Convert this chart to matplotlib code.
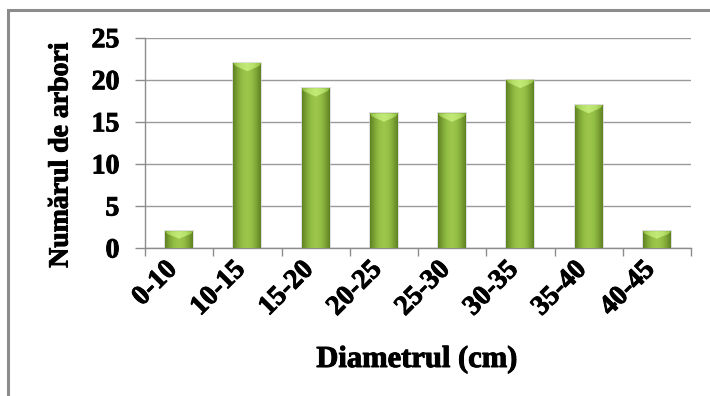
import numpy as np
import matplotlib.pyplot as plt
import matplotlib.patheffects as pe
import matplotlib.transforms as mtransforms
from matplotlib.patches import Polygon, Rectangle
from matplotlib.colors import LinearSegmentedColormap

# Distribuția arborilor pe clase de diametru
clase = ['0-10', '10-15', '15-20', '20-25', '25-30', '30-35', '35-40', '40-45']
numar_arbori = [2, 22, 19, 16, 16, 20, 17, 2]
y_ticks = [0, 5, 10, 15, 20, 25]

plt.rcParams['font.family'] = ['Liberation Serif', 'DejaVu Serif']
plt.rcParams['font.weight'] = 'bold'

# contur subțire ca textul să pară mai gros
ingrosare = [pe.withStroke(linewidth=0.7, foreground='black')]

fig = plt.figure(figsize=(7.1, 3.96), dpi=100)
ax = fig.add_axes([145 / 710, 1 - 248 / 396, 546 / 710, (248 - 37.7) / 396])

# chenarul graficului
fig.patches.append(Rectangle((8 / 710, -0.1), 1.2, 1 - 10 / 396 + 0.1,
                             transform=fig.transFigure, fill=False,
                             edgecolor='#8c8c8c', linewidth=2.2, zorder=0))

x = np.arange(len(clase))
latime = 0.41
bare = ax.bar(x, numar_arbori, width=latime, color='#86ad3a', zorder=3,
              edgecolor='none')

# gradient orizontal pentru aspectul de coloană
cmap_corp = LinearSegmentedColormap.from_list(
    'corp', ['#5f8122', '#7ea536', '#95c046', '#9cc74c', '#95c046', '#7ea536', '#5f8122'])
cmap_varf = LinearSegmentedColormap.from_list(
    'varf', ['#8fbd3e', '#b5e06a', '#c2ea78', '#b5e06a', '#8fbd3e'])
grad = np.linspace(0, 1, 256).reshape(1, -1)

for bara, h in zip(bare, numar_arbori):
    x0 = bara.get_x()
    x1 = x0 + bara.get_width()
    xc = (x0 + x1) / 2
    # umbra discretă
    ax.add_patch(Rectangle((x0 - 0.015, 0), x1 - x0 + 0.03, h + 0.12,
                           facecolor='#c8c8c8', alpha=0.6, edgecolor='none', zorder=2))
    img = ax.imshow(grad, extent=(x0, x1, 0, h), aspect='auto', cmap=cmap_corp,
                    zorder=4, interpolation='bicubic')
    img.set_clip_path(bara)
    d = min(1.0, h * 0.45)
    varf = Polygon([(x0, h), (x1, h), (x1 - 0.03, h - d * 0.35), (xc, h - d),
                    (x0 + 0.03, h - d * 0.35)], closed=True, facecolor='none',
                   edgecolor='none', zorder=5)
    ax.add_patch(varf)
    img2 = ax.imshow(grad, extent=(x0, x1, h - d, h), aspect='auto', cmap=cmap_varf,
                     zorder=5, interpolation='bicubic')
    img2.set_clip_path(varf)

ax.set_xlim(-0.5, len(clase) - 0.5)
ax.set_ylim(0, 25)

ax.set_yticks(y_ticks)
ax.set_yticklabels([str(v) for v in y_ticks], fontsize=20, fontweight='bold',
                   path_effects=ingrosare)
ax.yaxis.grid(True, color='#9a9a9a', linewidth=1.0, zorder=0)
ax.set_axisbelow(True)

# liniuțe între categorii
ax.set_xticks(np.arange(-0.5, len(clase)), labels=[])
ax.tick_params(axis='x', which='major', length=6, color='#8c8c8c', width=1)
ax.tick_params(axis='y', length=7.5, color='#8c8c8c', width=1, pad=11)

# etichetele claselor, rotite, sub fiecare coloană
deplasare = mtransforms.ScaledTranslation(-0.06, -0.18, fig.dpi_scale_trans)
for xi, c in zip(x, clase):
    ax.text(xi, 0, c, transform=ax.get_xaxis_transform() + deplasare,
            rotation=45, ha='right', va='center', rotation_mode='anchor',
            fontsize=20, fontweight='bold', path_effects=ingrosare)

for s in ['top', 'right']:
    ax.spines[s].set_visible(False)
for s in ['left', 'bottom']:
    ax.spines[s].set_color('#8c8c8c')
    ax.spines[s].set_linewidth(1.0)

fig.text(61 / 710, 1 - 155 / 396, 'Numărul de arbori', rotation=90,
         ha='center', va='center', fontsize=20, fontweight='bold',
         path_effects=ingrosare)
fig.text(417 / 710, 1 - 367 / 396, 'Diametrul (cm)', ha='center',
         va='baseline', fontsize=22, fontweight='bold', path_effects=ingrosare)

fig.savefig('out.png', dpi=100)
